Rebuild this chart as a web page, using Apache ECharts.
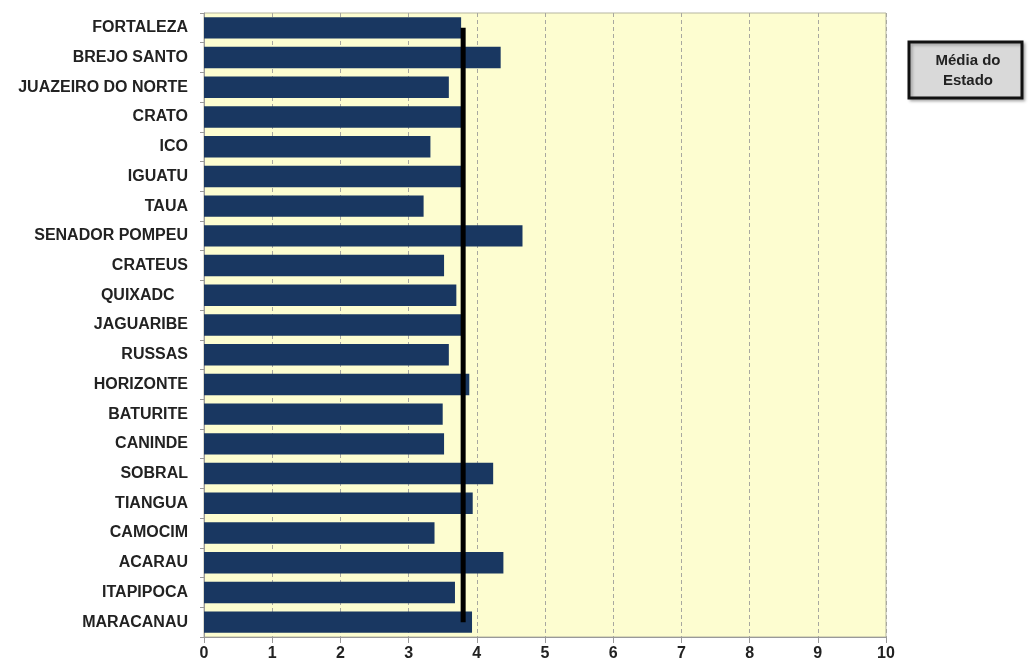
<!DOCTYPE html>
<html>
<head>
<meta charset="utf-8">
<script src="https://cdn.jsdelivr.net/npm/echarts@6/dist/echarts.min.js"></script>
<style>
    html, body { margin: 0; padding: 0; background: #fff; }
    #chartDiv { width: 1029px; height: 666px; }
</style>
</head>
<body>
<div id="chartDiv"></div>
<script>
// regioes, de cima para baixo
var regioes = ['FORTALEZA', 'BREJO SANTO', 'JUAZEIRO DO NORTE', 'CRATO', 'ICO', 'IGUATU', 'TAUA',
    'SENADOR POMPEU', 'CRATEUS', 'QUIXADC   ', 'JAGUARIBE', 'RUSSAS', 'HORIZONTE', 'BATURITE',
    'CANINDE', 'SOBRAL', 'TIANGUA', 'CAMOCIM', 'ACARAU', 'ITAPIPOCA', 'MARACANAU'];
var valores = [3.77, 4.35, 3.59, 3.77, 3.32, 3.77, 3.22, 4.67, 3.52, 3.70, 3.77, 3.59, 3.89, 3.50,
    3.52, 4.24, 3.94, 3.38, 4.39, 3.68, 3.93];
var mediaEstado = 3.80;
var xTicks = [0, 10, 1];

var mediaData = [];
for (var i = 0; i < regioes.length; i++) {
    mediaData.push(mediaEstado);
}

var myChart = echarts.init(document.getElementById('chartDiv'));
myChart.setOption({
    animation: false,
    textStyle: { fontFamily: '"Liberation Sans", Arial, sans-serif' },
    grid: {
        left: 204, right: 143, top: 13, bottom: 29,
        show: true,
        backgroundColor: '#fdfdd0',
        borderColor: '#b5b5a0',
        borderWidth: 1
    },
    legend: {
        data: ['Média do Estado'],
        right: 7, top: 42,
        icon: 'none',
        itemWidth: 0,
        itemGap: 0,
        padding: [11, 20, 10, 20],
        backgroundColor: '#d9d9d9',
        borderColor: '#111',
        borderWidth: 3,
        shadowColor: 'rgba(0,0,0,0.25)',
        shadowBlur: 3,
        shadowOffsetX: 2,
        shadowOffsetY: 2,
        formatter: function () {
            return '{a|Média do}\n{a|Estado}';
        },
        textStyle: {
            rich: {
                a: { fontSize: 15, fontWeight: 'bold', color: '#222', align: 'center', width: 68, lineHeight: 20 }
            }
        }
    },
    xAxis: {
        type: 'value',
        min: xTicks[0], max: xTicks[1], interval: xTicks[2],
        axisLine: { show: true, lineStyle: { color: '#999' } },
        axisTick: { show: true, length: 6, lineStyle: { color: '#999' } },
        axisLabel: { fontSize: 16, fontWeight: 'bold', color: '#222', margin: 9 },
        splitLine: { show: true, lineStyle: { color: '#a8a8a0', type: [4, 3] } }
    },
    yAxis: {
        type: 'category',
        data: regioes,
        inverse: true,
        axisLine: { show: true, lineStyle: { color: '#999' } },
        axisTick: { show: true, length: 4, lineStyle: { color: '#999' } },
        axisLabel: { fontSize: 16, fontWeight: 'bold', color: '#222', margin: 16 }
    },
    series: [
        {
            name: 'Valor',
            type: 'bar',
            data: valores,
            barCategoryGap: '28%',
            itemStyle: { color: '#193761' }
        },
        {
            name: 'Média do Estado',
            type: 'line',
            data: mediaData,
            symbol: 'none',
            lineStyle: { color: '#000', width: 5 },
            z: 5
        }
    ]
});
</script>
</body>
</html>
